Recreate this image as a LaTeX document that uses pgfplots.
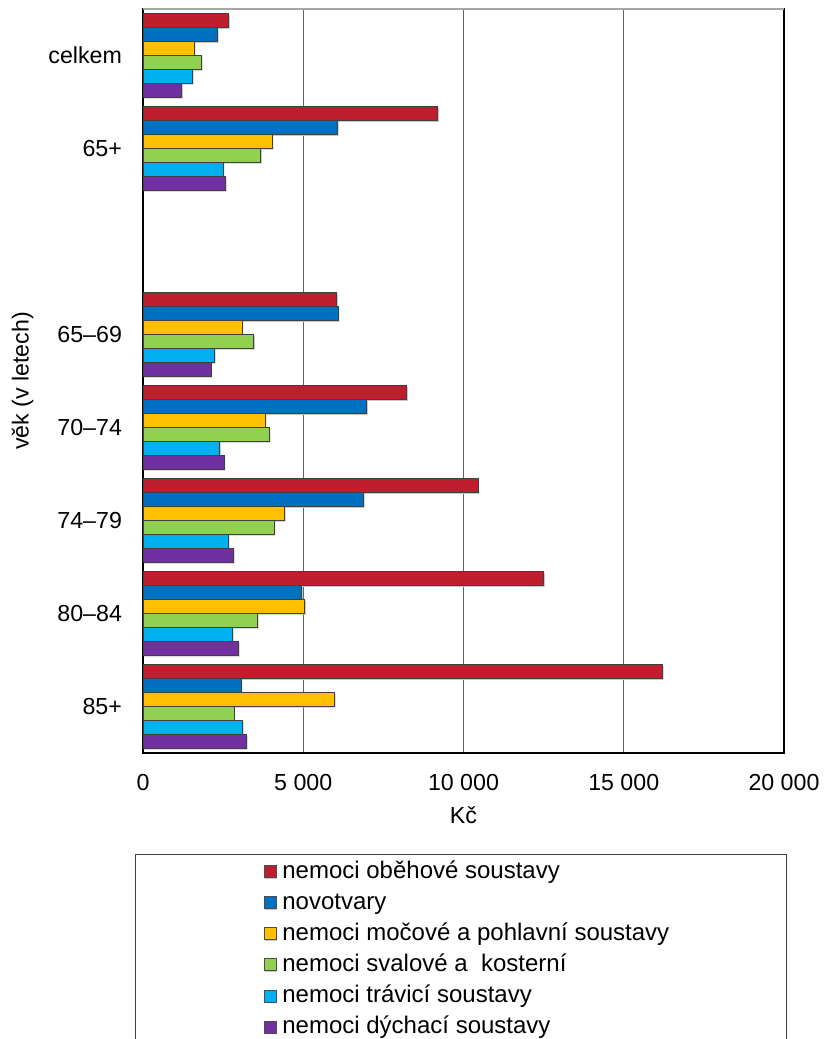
\documentclass[border=0pt]{standalone}
\usepackage{pgfplots}
\pgfplotsset{compat=1.18}
\usepackage{fontspec}
\setmainfont{Liberation Sans}

\definecolor{cred}{RGB}{190,30,45}
\definecolor{cblue}{RGB}{0,112,192}
\definecolor{cyellow}{RGB}{255,192,0}
\definecolor{cgreen}{RGB}{146,208,80}
\definecolor{ccyan}{RGB}{0,176,240}
\definecolor{cpurple}{RGB}{112,48,160}

\begin{document}
\begin{tikzpicture}
\useasboundingbox (-71.5pt,-143pt) rectangle (340.5pt,376.5pt);
\begin{axis}[
    at={(0,0)}, anchor=south west,
    scale only axis,
    width=320.5pt, height=372pt,
    xbar=0pt, bar width=0.15,
    y dir=reverse,
    xmin=0, xmax=20000,
    ymin=-0.5, ymax=7.5,
    scaled x ticks=false,
    xtick={0,5000,10000,15000,20000},
    xticklabels={0,{5 000},{10 000},{15 000},{20 000}},
    ytick={0,1,2,3,4,5,6,7},
    yticklabels={celkem,65+,{},65–69,70–74,74–79,80–84,85+},
    major tick length=0pt,
    xmajorgrids, major grid style={gray!80!black, line width=0.5pt},
    axis line style={black, line width=0.6pt},
    tick label style={font=\fontsize{11.6}{14}\selectfont},
    label style={font=\fontsize{11.6}{14}\selectfont},
    xticklabel style={anchor=base, yshift=-18.5pt},
    yticklabel style={anchor=east, xshift=-7pt},
    xlabel={Kč},
    xlabel style={at={(axis description cs:0.5,0)}, anchor=base, yshift=-35pt},
    ylabel={věk (v letech)},
    ylabel style={at={(axis description cs:-0.16,0.5)}, anchor=south},
    every axis plot/.append style={draw=black!75, line width=0.4pt,
        preaction={fill=black!22, draw=none, transform canvas={xshift=0.6pt, yshift=-0.6pt}}},
    legend image code/.code={
        \path (-5.7pt,0pt);
        \draw[#1, draw=black!70, line width=0.4pt] (0pt,-3pt) rectangle (6pt,3pt);
        \path (8.85pt,0pt);},
    legend style={
        at={(0,0)}, anchor=north west, xshift=-4pt, yshift=-50.65pt,
        draw=black!75, line width=0.5pt,
        inner xsep=58.5pt, inner ysep=2.7pt,
        row sep=4.26pt,
        font=\fontsize{12}{14}\selectfont,
        nodes={inner sep=0pt, text height=9pt, text depth=2.3pt},
    },
    legend cell align=left,
    after end axis/.code={\draw[gray!70, line width=0.6pt] (rel axis cs:0,1) -- (rel axis cs:1,1);},
]
\addplot[fill=cred] coordinates {
    (2670,0) (9200,1) (6040,3) (8230,4) (10450,5) (12500,6) (16210,7)
};
\addlegendentry{nemoci oběhové soustavy}
\addplot[fill=cblue] coordinates {
    (2320,0) (6070,1) (6090,3) (6980,4) (6880,5) (4950,6) (3060,7)
};
\addlegendentry{novotvary}
\addplot[fill=cyellow] coordinates {
    (1600,0) (4030,1) (3090,3) (3810,4) (4410,5) (5050,6) (5970,7)
};
\addlegendentry{nemoci močové a pohlavní soustavy}
\addplot[fill=cgreen] coordinates {
    (1820,0) (3670,1) (3450,3) (3940,4) (4090,5) (3570,6) (2840,7)
};
\addlegendentry{nemoci svalové a\ \ kosterní}
\addplot[fill=ccyan] coordinates {
    (1540,0) (2500,1) (2230,3) (2390,4) (2660,5) (2790,6) (3100,7)
};
\addlegendentry{nemoci trávicí soustavy}
\addplot[fill=cpurple] coordinates {
    (1210,0) (2570,1) (2120,3) (2530,4) (2820,5) (2980,6) (3230,7)
};
\addlegendentry{nemoci dýchací soustavy}
\end{axis}
\end{tikzpicture}
\end{document}
